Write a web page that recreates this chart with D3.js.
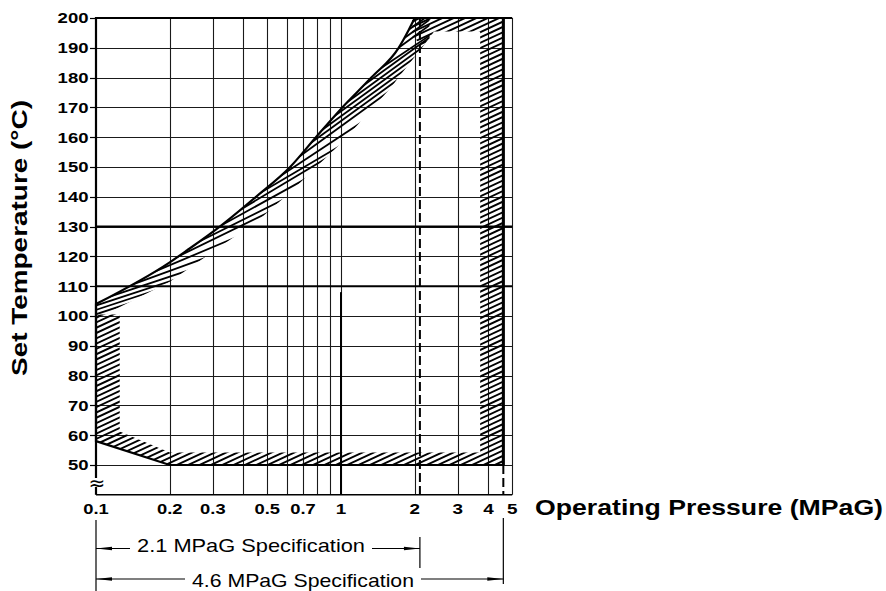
<!DOCTYPE html>
<html><head><meta charset="utf-8">
<script src="https://cdn.jsdelivr.net/npm/d3@7"></script>
<style>body{margin:0;background:#fff}svg{display:block}</style>
</head><body>
<svg id="c" width="886" height="591"></svg>
<script>
// ---------- data ----------
const xTickValues = [0.1, 0.2, 0.3, 0.5, 0.7, 1, 2, 3, 4, 5];
const xTickLabels = ["0.1", "0.2", "0.3", "0.5", "0.7", "1", "2", "3", "4", "5"];
const xGridValues = [0.2, 0.3, 0.4, 0.5, 0.6, 0.7, 0.8, 0.9, 1, 2, 3, 4, 5];
const yTickValues = [50, 60, 70, 80, 90, 100, 110, 120, 130, 140, 150, 160, 170, 180, 190, 200];
const yGridValues = [50, 60, 70, 80, 90, 100, 110, 120, 130, 140, 150, 160, 170, 180, 190];
const boldGridTemps = [110, 130];
// upper limit curve of the usable range [pressure MPaG, temperature °C]
const limitCurve = [[0.1, 104], [0.2, 118], [0.235, 122], [0.32, 130], [0.45, 140], [0.62, 150],
                    [0.79, 160], [1.0, 169.5], [1.33, 180], [1.72, 190], [1.89, 196], [2.0, 200]];
// rest of the outer envelope (right side, bottom, lower-left corner)
const envelopeRest = [[4.6, 200], [4.6, 50], [0.2, 50], [0.1, 58]];
// inner edge of the hatched margin below the curve
const curveBandInner = [[0.1, 99], [0.2, 111.5], [0.3, 121.6], [0.47, 132.8], [0.63, 142], [0.8, 150.3],
                        [1.0, 158], [1.31, 168.6], [1.59, 176.4], [1.79, 182], [2.16, 190.4], [2.3, 193]];
// hatched margins of the frame
const leftBand = [[0.1, 100.5], [0.125, 100.5], [0.125, 61.2], [0.1, 58]];
const bottomBand = [[0.1, 58], [0.125, 61.2], [0.2, 54.2], [4.6, 54.2], [4.6, 50], [0.2, 50]];
const rightBand = [[3.7, 200], [4.6, 200], [4.6, 50], [3.7, 50]];
const topBand = [[1.95, 200], [4.6, 200], [4.6, 195.5], [2.4, 195.5], [2.16, 190.4], [1.95, 194]];
const specPressures = [2.1, 4.6];
const specLabels = ["2.1 MPaG Specification", "4.6 MPaG Specification"];
const yBottom = 40;

// ---------- scales ----------
const svg = d3.select("#c");
const x = d3.scaleLog().domain([0.1, 5]).range([96, 512.2]);
const y = d3.scaleLinear().domain([200, yBottom]).range([18, 494.8]);
const P = d => [x(d[0]), y(d[1])];
const crisp = v => Math.round(v) + 0.5;
const FONT = "'Liberation Sans', Arial, Helvetica, sans-serif";

const defs = svg.append("defs");

// ---------- grid ----------
const grid = svg.append("g");
grid.selectAll("line.vg").data(xGridValues).join("line")
  .attr("x1", d => crisp(x(d))).attr("x2", d => crisp(x(d)))
  .attr("y1", y(200)).attr("y2", y(yBottom))
  .attr("stroke", "#1a1a1a").attr("stroke-width", 1.1);
grid.selectAll("line.hg").data(yGridValues).join("line")
  .attr("x1", x(0.1)).attr("x2", x(5))
  .attr("y1", d => crisp(y(d))).attr("y2", d => crisp(y(d)))
  .attr("stroke", "#1a1a1a").attr("stroke-width", 1.1);
grid.selectAll("line.bg").data(boldGridTemps).join("line")
  .attr("x1", x(0.1)).attr("x2", x(5))
  .attr("y1", d => y(d)).attr("y2", d => y(d))
  .attr("stroke", "#000").attr("stroke-width", 2);
// bold segment of the 1 MPaG line
grid.append("line").attr("x1", x(1)).attr("x2", x(1)).attr("y1", y(108)).attr("y2", y(yBottom))
  .attr("stroke", "#000").attr("stroke-width", 2);

// ---------- hatching ----------
const curveGen = d3.line().x(d => x(d[0])).y(d => y(d[1])).curve(d3.curveMonotoneX);
const polyStr = pts => "M" + pts.map(d => P(d).join(",")).join("L") + "Z";

const frameClip = defs.append("clipPath").attr("id", "frameClip");
[leftBand, bottomBand, rightBand, topBand].forEach(b => frameClip.append("path").attr("d", polyStr(b)));

const curveStr = curveGen(limitCurve);
const bandStr = curveStr + "L" + P([2.3, 200]).join(",") + "L" +
  curveBandInner.slice().reverse().map(d => P(d).join(",")).join("L") + "Z";
defs.append("clipPath").attr("id", "curveClip").append("path").attr("d", bandStr);

// frame hatch: uniform lines at ~25°
const ang = 25 * Math.PI / 180, sp = 4.8 / Math.cos(ang);
const frameLines = d3.range(-300, 1300, sp);
svg.append("g").attr("clip-path", "url(#frameClip)")
  .selectAll("line").data(frameLines).join("line")
  .attr("x1", 0).attr("y1", d => d).attr("x2", 886).attr("y2", d => d - 886 * Math.tan(ang))
  .attr("stroke", "#000").attr("stroke-width", 1.9);

// curve band hatch: lines starting on the curve, slightly flatter than it
const curvePath = svg.append("path").attr("d", curveStr).attr("fill", "none").attr("stroke", "none");
const node = curvePath.node();
const Ltot = node.getTotalLength();
const pt = s => {
  if (s >= 0 && s <= Ltot) return node.getPointAtLength(s);
  const a = node.getPointAtLength(0), b = node.getPointAtLength(2);
  const ux = (b.x - a.x) / 2, uy = (b.y - a.y) / 2;
  return { x: a.x + ux * s, y: a.y + uy * s };
};
const segs = [];
let s = -140;
while (s < Ltot) {
  const sc = Math.min(s, Ltot - 1.5);
  const a = pt(sc - 1.5), b = pt(sc + 1.5);
  const alpha = Math.atan2(-(b.y - a.y), b.x - a.x);
  const beta = Math.min(alpha - 9 * Math.PI / 180, 36 * Math.PI / 180);
  const delta = alpha - beta;
  const p = pt(s);
  segs.push([p.x - 4 * Math.cos(beta), p.y + 4 * Math.sin(beta), p.x + 240 * Math.cos(beta), p.y - 240 * Math.sin(beta)]);
  s += 4.1 / Math.sin(delta);
}
svg.append("g").attr("clip-path", "url(#curveClip)")
  .selectAll("line").data(segs).join("line")
  .attr("x1", d => d[0]).attr("y1", d => d[1]).attr("x2", d => d[2]).attr("y2", d => d[3])
  .attr("stroke", "#000").attr("stroke-width", 1.8);

// ---------- dashed spec lines ----------
svg.append("line").attr("x1", x(2.1)).attr("x2", x(2.1)).attr("y1", y(200)).attr("y2", y(yBottom))
  .attr("stroke", "#000").attr("stroke-width", 2).attr("stroke-dasharray", "9,4");
svg.append("line").attr("x1", x(4.6)).attr("x2", x(4.6)).attr("y1", y(50)).attr("y2", y(yBottom))
  .attr("stroke", "#000").attr("stroke-width", 2).attr("stroke-dasharray", "9,4");

// ---------- envelope outline ----------
svg.append("path").attr("d", curveStr + "L" + envelopeRest.map(d => P(d).join(",")).join("L") + "Z")
  .attr("fill", "none").attr("stroke", "#000").attr("stroke-width", 2.2).attr("stroke-linejoin", "miter");
svg.append("line").attr("x1", x(4.6)).attr("x2", x(4.6)).attr("y1", y(200)).attr("y2", y(50))
  .attr("stroke", "#000").attr("stroke-width", 3);

// ---------- axes frame ----------
svg.append("line").attr("x1", x(0.1)).attr("x2", x(5)).attr("y1", y(200)).attr("y2", y(200))
  .attr("stroke", "#000").attr("stroke-width", 2.2);
svg.append("line").attr("x1", x(0.1)).attr("x2", x(5)).attr("y1", y(yBottom)).attr("y2", y(yBottom))
  .attr("stroke", "#000").attr("stroke-width", 1.6);
svg.append("line").attr("x1", x(0.1)).attr("x2", x(0.1)).attr("y1", y(200) - 1).attr("y2", 478)
  .attr("stroke", "#000").attr("stroke-width", 2.2);
svg.append("line").attr("x1", x(0.1)).attr("x2", x(0.1)).attr("y1", 487).attr("y2", y(yBottom))
  .attr("stroke", "#000").attr("stroke-width", 2.2);
svg.append("text").attr("x", x(0.1) + 1).attr("y", 482.5)
  .attr("text-anchor", "middle").attr("dominant-baseline", "central")
  .attr("font-family", "'DejaVu Sans', sans-serif")
  .attr("font-size", 20).text("≈");

// y ticks & labels
const yAx = svg.append("g");
yAx.selectAll("line").data(yTickValues).join("line")
  .attr("x1", x(0.1) - 6).attr("x2", x(0.1)).attr("y1", d => crisp(y(d))).attr("y2", d => crisp(y(d)))
  .attr("stroke", "#000").attr("stroke-width", 1.2);
yAx.selectAll("text").data(yTickValues).join("text")
  .attr("x", 88.5).attr("y", d => y(d) + 5.3)
  .attr("text-anchor", "end").attr("font-family", FONT).attr("font-weight", "bold").attr("font-size", 14.8)
  .attr("textLength", d => String(d).length * 10.3).attr("lengthAdjust", "spacingAndGlyphs")
  .text(d => d);

// x labels
svg.append("g").selectAll("text").data(xTickValues).join("text")
  .attr("x", d => x(d)).attr("y", 514)
  .attr("text-anchor", "middle").attr("font-family", FONT).attr("font-weight", "bold").attr("font-size", 15)
  .attr("textLength", (d, i) => xTickLabels[i].length === 1 ? 10.5 : 25.5).attr("lengthAdjust", "spacingAndGlyphs")
  .text((d, i) => xTickLabels[i]);

// axis titles
svg.append("text").attr("transform", "translate(27,238) rotate(-90)")
  .attr("text-anchor", "middle").attr("font-family", FONT).attr("font-weight", "bold").attr("font-size", 22.5)
  .attr("textLength", 276).attr("lengthAdjust", "spacingAndGlyphs")
  .text("Set Temperature (°C)");
svg.append("text").attr("x", 535).attr("y", 515)
  .attr("font-family", FONT).attr("font-weight", "bold").attr("font-size", 22)
  .attr("textLength", 348).attr("lengthAdjust", "spacingAndGlyphs")
  .text("Operating Pressure (MPaG)");

// ---------- specification dimension lines ----------
const dim = svg.append("g");
const dimY = [548.5, 579];
const textSpan = [[137, 228], [192, 222]];
const textBase = [551.5, 586.5];
const ext = [[520, 591], [537, 568], [518, 584]];
dim.append("line").attr("x1", x(0.1)).attr("x2", x(0.1)).attr("y1", ext[0][0]).attr("y2", ext[0][1])
  .attr("stroke", "#000").attr("stroke-width", 1.2);
specPressures.forEach((p, i) => {
  const xr = x(p), xl = x(0.1), yy = dimY[i];
  dim.append("line").attr("x1", xr).attr("x2", xr).attr("y1", ext[i + 1][0]).attr("y2", ext[i + 1][1])
    .attr("stroke", "#000").attr("stroke-width", 1.2);
  dim.append("line").attr("x1", xl).attr("x2", textSpan[i][0] - 7).attr("y1", yy).attr("y2", yy)
    .attr("stroke", "#000").attr("stroke-width", 1.2);
  dim.append("line").attr("x1", textSpan[i][0] + textSpan[i][1] + 7).attr("x2", xr).attr("y1", yy).attr("y2", yy)
    .attr("stroke", "#000").attr("stroke-width", 1.2);
  dim.append("path").attr("d", `M${xl},${yy}L${xl + 16},${yy - 1.8}L${xl + 16},${yy + 1.8}Z`).attr("fill", "#000");
  dim.append("path").attr("d", `M${xr},${yy}L${xr - 16},${yy - 1.8}L${xr - 16},${yy + 1.8}Z`).attr("fill", "#000");
  dim.append("text").attr("x", textSpan[i][0]).attr("y", textBase[i])
    .attr("font-family", FONT).attr("font-size", 19)
    .attr("textLength", textSpan[i][1]).attr("lengthAdjust", "spacingAndGlyphs")
    .text(specLabels[i]);
});
</script>
</body></html>
